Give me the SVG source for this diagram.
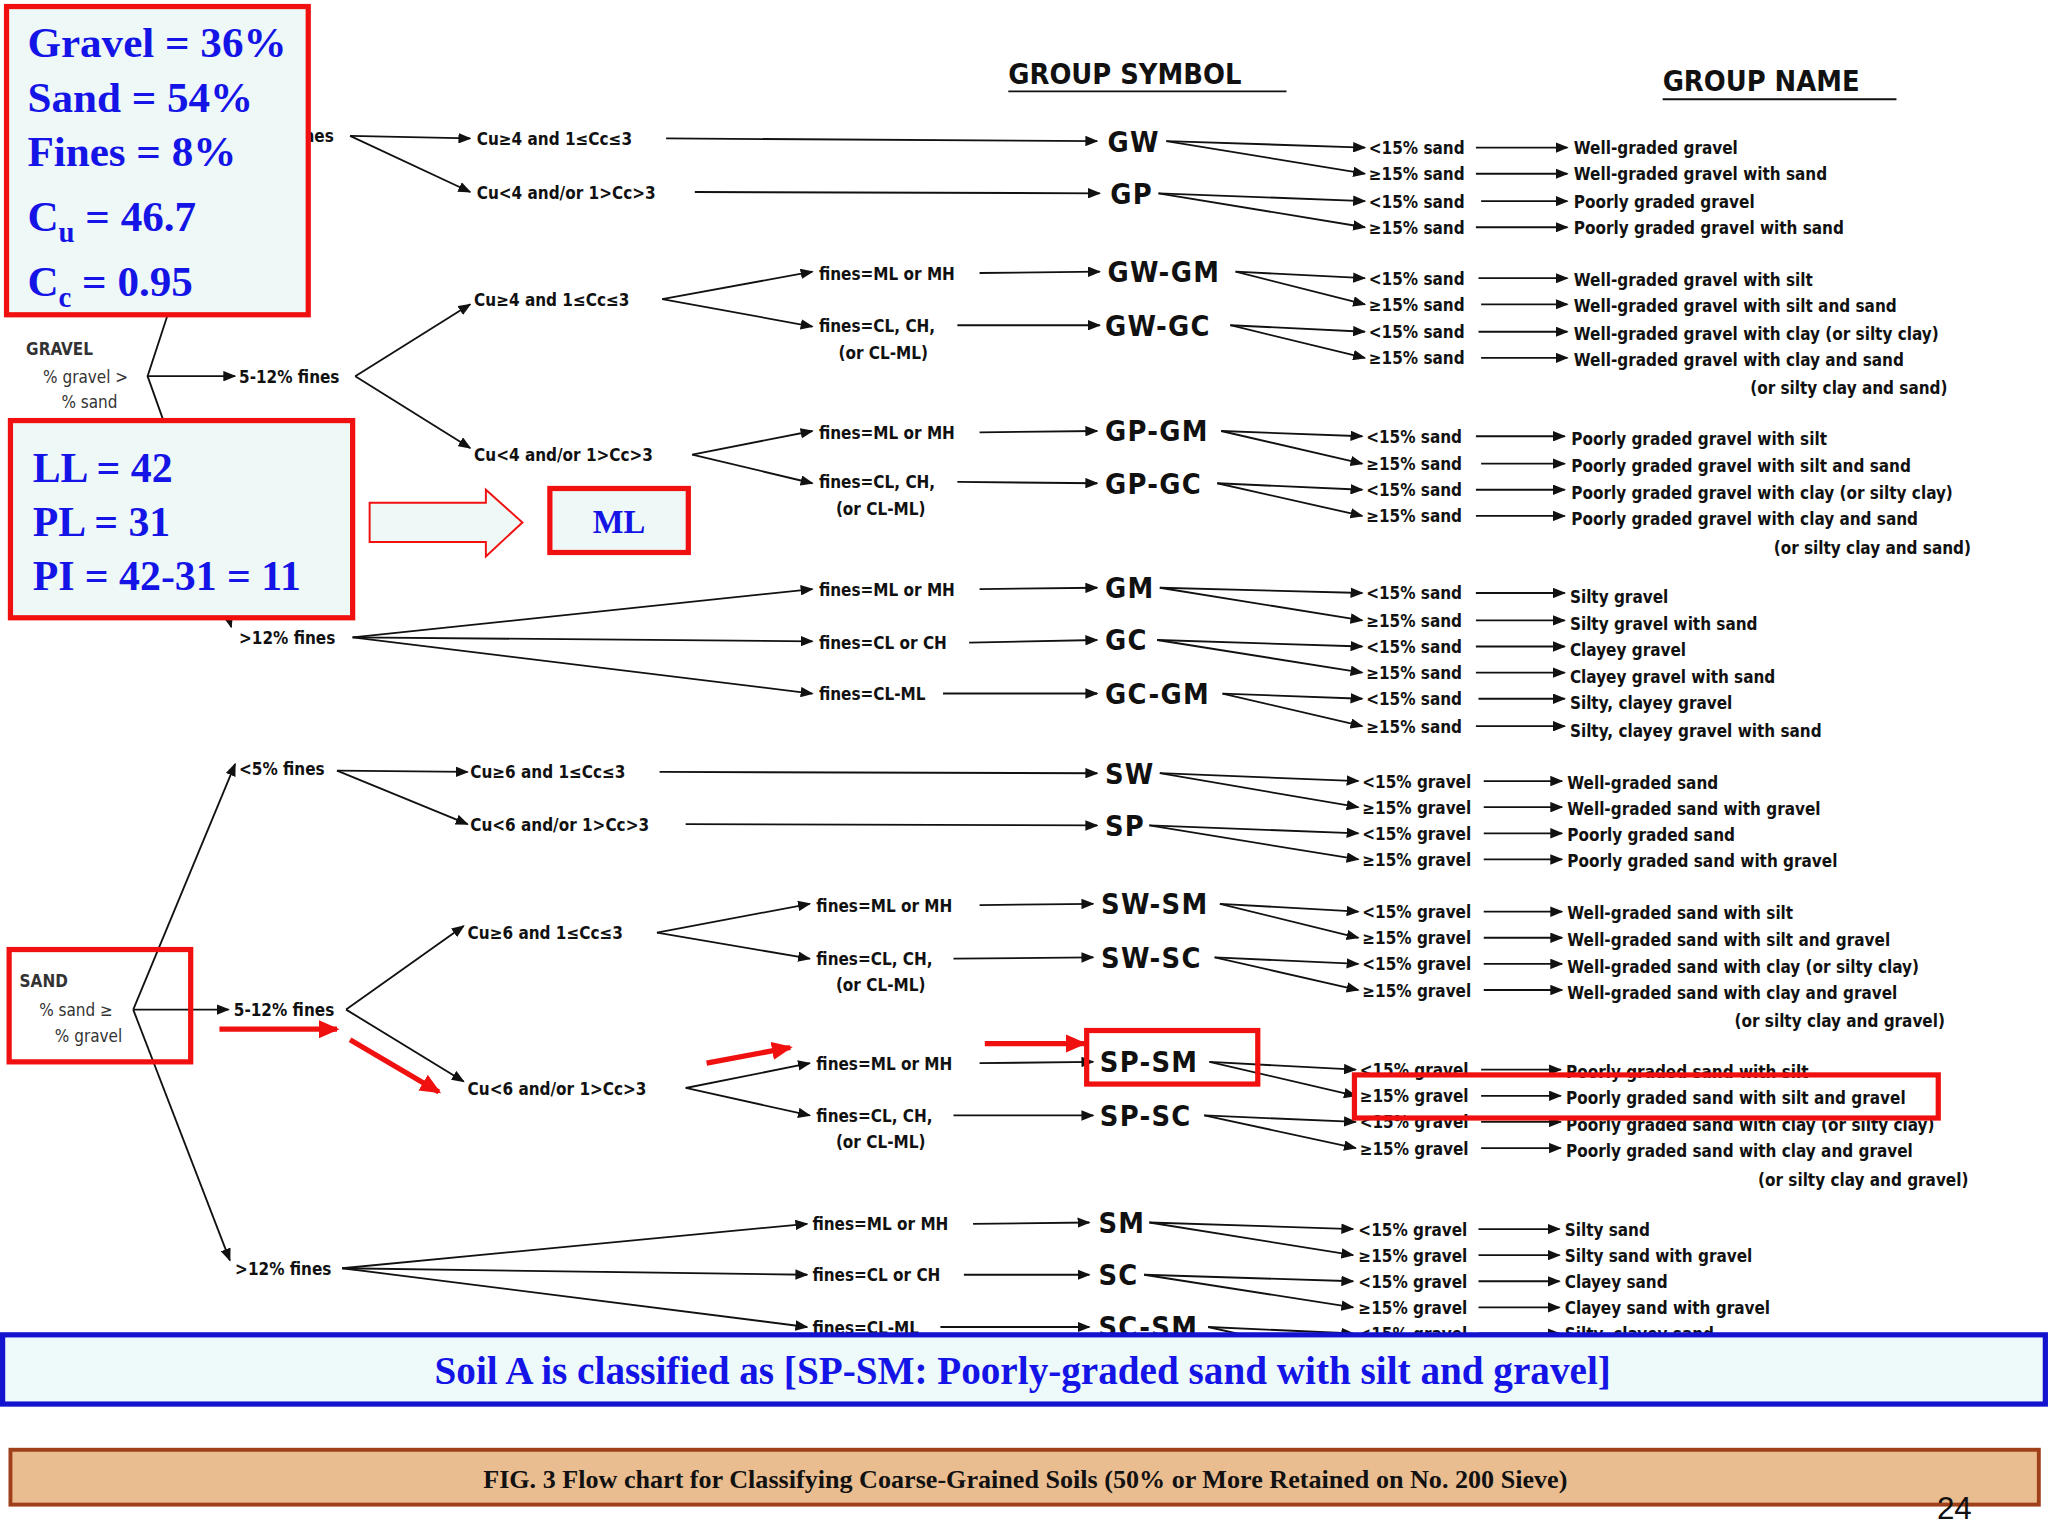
<svg xmlns="http://www.w3.org/2000/svg" width="2048" height="1536" viewBox="0 0 2048 1536">
<defs>
<marker id="ah" markerWidth="10" markerHeight="8" refX="9" refY="4" orient="auto" markerUnits="userSpaceOnUse"><path d="M0,0 L10,4 L0,8 z" fill="#111"/></marker>
<marker id="rh" markerWidth="16" markerHeight="14" refX="14" refY="7" orient="auto" markerUnits="userSpaceOnUse"><path d="M0,0 L16,7 L0,14 z" fill="#f01010"/></marker>
<style>
.t{font-family:"DejaVu Sans Condensed","Liberation Sans Narrow","Liberation Sans",sans-serif;font-weight:bold;font-size:13px;fill:#111}
.g{font-family:"DejaVu Sans Condensed","Liberation Sans",sans-serif;font-size:13px;fill:#333}
.s{font-family:"DejaVu Sans Condensed","Liberation Sans",sans-serif;font-weight:bold;font-size:22px;fill:#111;letter-spacing:1px}
.h{font-family:"DejaVu Sans Condensed","Liberation Sans",sans-serif;font-weight:bold;font-size:22px;fill:#111}
.l{stroke:#111;stroke-width:1.4;fill:none}
.a{stroke:#111;stroke-width:1.4;fill:none;marker-end:url(#ah)}
.rb{fill:none;stroke:#f01010;stroke-width:4}
.bx{fill:#eef8f6;stroke:#f01010;stroke-width:4}
.bt{font-family:"Liberation Serif",serif;font-weight:bold;fill:#1414e6}
.ra{stroke:#f01010;stroke-width:4;fill:none;marker-end:url(#rh)}
</style>
</defs>
<rect width="2048" height="1536" fill="#ffffff"/>
<g transform="scale(1.3061)">
<g id="headers">
<text class="h" x="772" y="64">GROUP SYMBOL</text><line x1="772" y1="70" x2="985" y2="70" class="l" stroke-width="2"/>
<text class="h" x="1273" y="70">GROUP NAME</text><line x1="1273" y1="76" x2="1452" y2="76" class="l" stroke-width="2"/>
</g>
<g id="connectors">
<!-- gravel root -->
<path class="l" d="M130,236 L113,288 L160,420"/>
<path class="a" d="M113,288 L180,288"/>
<path class="a" d="M160,420 L177,480"/>
<!-- sand root -->
<path class="a" d="M102,773 L180,585"/>
<path class="a" d="M102,773 L176,965"/>
<path class="a" d="M102,773 L175,773"/>
<!-- level 2 -->
<path class="a" d="M268,104 L360,106"/><path class="a" d="M268,104 L360,147"/>
<path class="a" d="M272,288 L360,233"/><path class="a" d="M272,288 L360,343"/>
<path class="a" d="M270,488 L622,451"/><path class="a" d="M270,488 L622,491"/><path class="a" d="M270,488 L622,531"/>
<path class="a" d="M258,590 L358,591"/><path class="a" d="M258,590 L358,631"/>
<path class="a" d="M265,773 L355,709"/><path class="a" d="M265,773 L355,828"/>
<path class="a" d="M262,971 L618,937"/><path class="a" d="M262,971 L618,976"/><path class="a" d="M262,971 L618,1016"/>
<path class="a" d="M507,229 L622,208"/><path class="a" d="M507,229 L622,250"/>
<path class="a" d="M530,348 L622,330"/><path class="a" d="M530,348 L622,370"/>
<path class="a" d="M503,714 L620,692"/><path class="a" d="M503,714 L620,734"/>
<path class="a" d="M525,833 L620,814"/><path class="a" d="M525,833 L620,854"/>
<!-- into symbols -->
<path class="a" d="M510,106 L840,108"/><path class="a" d="M532,147 L842,148"/>
<path class="a" d="M750,209 L842,208"/><path class="a" d="M733,249 L842,249"/>
<path class="a" d="M750,331 L840,330"/><path class="a" d="M733,369 L840,370"/>
<path class="a" d="M750,451 L840,450"/><path class="a" d="M742,492 L840,490"/><path class="a" d="M722,531 L840,531"/>
<path class="a" d="M505,591 L840,592"/><path class="a" d="M525,631 L840,632"/>
<path class="a" d="M750,693 L837,692"/><path class="a" d="M730,734 L837,733"/>
<path class="a" d="M750,814 L837,813"/><path class="a" d="M730,854 L837,854"/>
<path class="a" d="M745,937 L834,936"/><path class="a" d="M738,976 L834,976"/><path class="a" d="M720,1016 L834,1016"/>
<!-- symbol to qualifiers -->
<path class="a" d="M893,108 L1045,113"/><path class="a" d="M893,108 L1045,133"/>
<path class="a" d="M887,148 L1045,154"/><path class="a" d="M887,148 L1045,174"/>
<path class="a" d="M946,208 L1045,213"/><path class="a" d="M946,208 L1045,233"/>
<path class="a" d="M942,249 L1045,254"/><path class="a" d="M942,249 L1045,274"/>
<path class="a" d="M935,330 L1043,334"/><path class="a" d="M935,330 L1043,355"/>
<path class="a" d="M932,370 L1043,375"/><path class="a" d="M932,370 L1043,395"/>
<path class="a" d="M888,450 L1043,454"/><path class="a" d="M888,450 L1043,475"/>
<path class="a" d="M886,490 L1043,495"/><path class="a" d="M886,490 L1043,515"/>
<path class="a" d="M936,531 L1043,535"/><path class="a" d="M936,531 L1043,556"/>
<path class="a" d="M888,592 L1040,598"/><path class="a" d="M888,592 L1040,618"/>
<path class="a" d="M880,632 L1040,638"/><path class="a" d="M880,632 L1040,658"/>
<path class="a" d="M934,692 L1040,698"/><path class="a" d="M934,692 L1040,718"/>
<path class="a" d="M930,733 L1040,738"/><path class="a" d="M930,733 L1040,758"/>
<path class="a" d="M926,813 L1038,819"/><path class="a" d="M926,813 L1038,839"/>
<path class="a" d="M922,854 L1038,859"/><path class="a" d="M922,854 L1038,879"/>
<path class="a" d="M880,936 L1036,941"/><path class="a" d="M880,936 L1036,961"/>
<path class="a" d="M876,976 L1036,981"/><path class="a" d="M876,976 L1036,1001"/>
<path class="a" d="M925,1016 L1036,1021"/><path class="a" d="M925,1016 L1036,1041"/>
<!-- qualifiers to names (sand) -->
<path class="a" d="M1130,113 L1200,113"/><path class="a" d="M1130,133 L1200,133"/><path class="a" d="M1134,154 L1200,154"/><path class="a" d="M1130,174 L1200,174"/>
<path class="a" d="M1132,213 L1200,213"/><path class="a" d="M1134,233 L1200,233"/><path class="a" d="M1132,254 L1200,254"/><path class="a" d="M1134,274 L1200,274"/>
<path class="a" d="M1130,334 L1198,334"/><path class="a" d="M1134,355 L1198,355"/><path class="a" d="M1130,375 L1198,375"/><path class="a" d="M1130,395 L1198,395"/>
<path class="a" d="M1130,454 L1198,454"/><path class="a" d="M1130,475 L1198,475"/><path class="a" d="M1130,495 L1198,495"/><path class="a" d="M1130,515 L1198,515"/><path class="a" d="M1132,535 L1198,535"/><path class="a" d="M1130,556 L1198,556"/>
<!-- gravel -->
<path class="a" d="M1136,598 L1196,598"/><path class="a" d="M1136,618 L1196,618"/><path class="a" d="M1136,638 L1196,638"/><path class="a" d="M1136,658 L1196,658"/>
<path class="a" d="M1136,698 L1196,698"/><path class="a" d="M1136,718 L1196,718"/><path class="a" d="M1136,738 L1196,738"/><path class="a" d="M1136,758 L1196,758"/>
<path class="a" d="M1134,819 L1195,819"/><path class="a" d="M1134,839 L1195,839"/><path class="a" d="M1134,859 L1195,859"/><path class="a" d="M1134,879 L1195,879"/>
<path class="a" d="M1132,941 L1194,941"/><path class="a" d="M1132,961 L1194,961"/><path class="a" d="M1132,981 L1194,981"/><path class="a" d="M1132,1001 L1194,1001"/><path class="a" d="M1132,1021 L1194,1021"/>
</g>
<g id="labels">
<text class="t" x="190" y="109">&lt;5% fines</text>
<text class="g" x="20" y="272" font-weight="bold">GRAVEL</text>
<text class="g" x="33" y="293">% gravel &gt;</text>
<text class="g" x="47" y="312">% sand</text>
<text class="t" x="183" y="293">5-12% fines</text>
<text class="t" x="183" y="493">&gt;12% fines</text>
<text class="t" x="365" y="111">Cu≥4 and 1≤Cc≤3</text>
<text class="t" x="365" y="152">Cu&lt;4 and/or 1&gt;Cc&gt;3</text>
<text class="t" x="363" y="234">Cu≥4 and 1≤Cc≤3</text>
<text class="t" x="363" y="353">Cu&lt;4 and/or 1&gt;Cc&gt;3</text>
<text class="t" x="627" y="214">fines=ML or MH</text>
<text class="t" x="627" y="254">fines=CL, CH,</text><text class="t" x="642" y="275">(or CL-ML)</text>
<text class="t" x="627" y="336">fines=ML or MH</text>
<text class="t" x="627" y="374">fines=CL, CH,</text><text class="t" x="640" y="394">(or CL-ML)</text>
<text class="t" x="627" y="456">fines=ML or MH</text>
<text class="t" x="627" y="497">fines=CL or CH</text>
<text class="t" x="627" y="536">fines=CL-ML</text>
<text class="g" x="15" y="756" font-weight="bold">SAND</text>
<text class="g" x="30" y="778">% sand ≥</text>
<text class="g" x="42" y="798">% gravel</text>
<text class="t" x="183" y="593">&lt;5% fines</text>
<text class="t" x="179" y="778">5-12% fines</text>
<text class="t" x="180" y="976">&gt;12% fines</text>
<text class="t" x="360" y="596">Cu≥6 and 1≤Cc≤3</text>
<text class="t" x="360" y="636">Cu&lt;6 and/or 1&gt;Cc&gt;3</text>
<text class="t" x="358" y="719">Cu≥6 and 1≤Cc≤3</text>
<text class="t" x="358" y="838">Cu&lt;6 and/or 1&gt;Cc&gt;3</text>
<text class="t" x="625" y="698">fines=ML or MH</text>
<text class="t" x="625" y="739">fines=CL, CH,</text><text class="t" x="640" y="759">(or CL-ML)</text>
<text class="t" x="625" y="819">fines=ML or MH</text>
<text class="t" x="625" y="859">fines=CL, CH,</text><text class="t" x="640" y="879">(or CL-ML)</text>
<text class="t" x="622" y="942">fines=ML or MH</text>
<text class="t" x="622" y="981">fines=CL or CH</text>
<text class="t" x="622" y="1021">fines=CL-ML</text>
</g>
<g id="symbols">
<text class="s" x="848" y="116">GW</text><text class="s" x="850" y="156">GP</text>
<text class="s" x="848" y="216">GW-GM</text><text class="s" x="846" y="257">GW-GC</text>
<text class="s" x="846" y="338">GP-GM</text><text class="s" x="846" y="378">GP-GC</text>
<text class="s" x="846" y="458">GM</text><text class="s" x="846" y="498">GC</text><text class="s" x="846" y="539">GC-GM</text>
<text class="s" x="846" y="600">SW</text><text class="s" x="846" y="640">SP</text>
<text class="s" x="843" y="700">SW-SM</text><text class="s" x="843" y="741">SW-SC</text>
<text class="s" x="842" y="821">SP-SM</text><text class="s" x="842" y="862">SP-SC</text>
<text class="s" x="841" y="944">SM</text><text class="s" x="841" y="984">SC</text><text class="s" x="841" y="1024">SC-SM</text>
</g>
<g id="names">
<text class="t" x="1048" y="118">&lt;15% sand</text><text class="t" x="1205" y="118">Well-graded gravel</text>
<text class="t" x="1048" y="138">≥15% sand</text><text class="t" x="1205" y="138">Well-graded gravel with sand</text>
<text class="t" x="1048" y="159">&lt;15% sand</text><text class="t" x="1205" y="159">Poorly graded gravel</text>
<text class="t" x="1048" y="179">≥15% sand</text><text class="t" x="1205" y="179">Poorly graded gravel with sand</text>
<text class="t" x="1048" y="218">&lt;15% sand</text><text class="t" x="1205" y="219">Well-graded gravel with silt</text>
<text class="t" x="1048" y="238">≥15% sand</text><text class="t" x="1205" y="239">Well-graded gravel with silt and sand</text>
<text class="t" x="1048" y="259">&lt;15% sand</text><text class="t" x="1205" y="260">Well-graded gravel with clay (or silty clay)</text>
<text class="t" x="1048" y="279">≥15% sand</text><text class="t" x="1205" y="280">Well-graded gravel with clay and sand</text>
<text class="t" x="1340" y="302">(or silty clay and sand)</text>
<text class="t" x="1046" y="339">&lt;15% sand</text><text class="t" x="1203" y="341">Poorly graded gravel with silt</text>
<text class="t" x="1046" y="360">≥15% sand</text><text class="t" x="1203" y="361">Poorly graded gravel with silt and sand</text>
<text class="t" x="1046" y="380">&lt;15% sand</text><text class="t" x="1203" y="382">Poorly graded gravel with clay (or silty clay)</text>
<text class="t" x="1046" y="400">≥15% sand</text><text class="t" x="1203" y="402">Poorly graded gravel with clay and sand</text>
<text class="t" x="1358" y="424">(or silty clay and sand)</text>
<text class="t" x="1046" y="459">&lt;15% sand</text><text class="t" x="1202" y="462">Silty gravel</text>
<text class="t" x="1046" y="480">≥15% sand</text><text class="t" x="1202" y="482">Silty gravel with sand</text>
<text class="t" x="1046" y="500">&lt;15% sand</text><text class="t" x="1202" y="502">Clayey gravel</text>
<text class="t" x="1046" y="520">≥15% sand</text><text class="t" x="1202" y="523">Clayey gravel with sand</text>
<text class="t" x="1046" y="540">&lt;15% sand</text><text class="t" x="1202" y="543">Silty, clayey gravel</text>
<text class="t" x="1046" y="561">≥15% sand</text><text class="t" x="1202" y="564">Silty, clayey gravel with sand</text>
<text class="t" x="1043" y="603">&lt;15% gravel</text><text class="t" x="1200" y="604">Well-graded sand</text>
<text class="t" x="1043" y="623">≥15% gravel</text><text class="t" x="1200" y="624">Well-graded sand with gravel</text>
<text class="t" x="1043" y="643">&lt;15% gravel</text><text class="t" x="1200" y="644">Poorly graded sand</text>
<text class="t" x="1043" y="663">≥15% gravel</text><text class="t" x="1200" y="664">Poorly graded sand with gravel</text>
<text class="t" x="1043" y="703">&lt;15% gravel</text><text class="t" x="1200" y="704">Well-graded sand with silt</text>
<text class="t" x="1043" y="723">≥15% gravel</text><text class="t" x="1200" y="724">Well-graded sand with silt and gravel</text>
<text class="t" x="1043" y="743">&lt;15% gravel</text><text class="t" x="1200" y="745">Well-graded sand with clay (or silty clay)</text>
<text class="t" x="1043" y="763">≥15% gravel</text><text class="t" x="1200" y="765">Well-graded sand with clay and gravel</text>
<text class="t" x="1328" y="786">(or silty clay and gravel)</text>
<text class="t" x="1041" y="824">&lt;15% gravel</text><text class="t" x="1199" y="825">Poorly graded sand with silt</text>
<text class="t" x="1041" y="844">≥15% gravel</text><text class="t" x="1199" y="845">Poorly graded sand with silt and gravel</text>
<text class="t" x="1041" y="864">&lt;15% gravel</text><text class="t" x="1199" y="866">Poorly graded sand with clay (or silty clay)</text>
<text class="t" x="1041" y="884">≥15% gravel</text><text class="t" x="1199" y="886">Poorly graded sand with clay and gravel</text>
<text class="t" x="1346" y="908">(or silty clay and gravel)</text>
<text class="t" x="1040" y="946">&lt;15% gravel</text><text class="t" x="1198" y="946">Silty sand</text>
<text class="t" x="1040" y="966">≥15% gravel</text><text class="t" x="1198" y="966">Silty sand with gravel</text>
<text class="t" x="1040" y="986">&lt;15% gravel</text><text class="t" x="1198" y="986">Clayey sand</text>
<text class="t" x="1040" y="1006">≥15% gravel</text><text class="t" x="1198" y="1006">Clayey sand with gravel</text>
<text class="t" x="1040" y="1026">&lt;15% gravel</text><text class="t" x="1198" y="1026">Silty, clayey sand</text>
</g>
<g id="soil-data">
<rect class="bx" x="5" y="5" width="231" height="236"/>
<text class="bt" font-size="33" x="21" y="44">Gravel = 36%</text>
<text class="bt" font-size="33" x="21" y="86">Sand = 54%</text>
<text class="bt" font-size="33" x="21" y="127">Fines = 8%</text>
<text class="bt" font-size="33" x="21" y="177">C<tspan font-size="22" dy="8">u</tspan><tspan dy="-8"> = 46.7</tspan></text>
<text class="bt" font-size="33" x="21" y="227">C<tspan font-size="22" dy="8">c</tspan><tspan dy="-8"> = 0.95</tspan></text>
</g>
<g id="limits">
<rect class="bx" x="8" y="322" width="262" height="151"/>
<text class="bt" font-size="32" x="25" y="369">LL = 42</text>
<text class="bt" font-size="32" x="25" y="410">PL = 31</text>
<text class="bt" font-size="32" x="25" y="452">PI = 42-31 = 11</text>
</g>
<g id="hollow-arrow"><polygon points="283,385 372,385 372,375 400,400 372,426 372,415 283,415" fill="#eef8f6" stroke="#f01010" stroke-width="1.5"/></g>
<g id="ml"><rect class="bx" x="421" y="374" width="106" height="49"/><text class="bt" font-size="25" x="474" y="408" text-anchor="middle">ML</text></g>
<g id="highlights">
<rect class="rb" x="7" y="727" width="139" height="86"/>
<rect class="rb" x="832" y="789" width="131" height="41"/>
<rect class="rb" x="1037" y="823" width="447" height="33"/>
<path class="ra" d="M168,788 L258,788"/>
<path class="ra" d="M268,796 L336,836"/>
<path class="ra" d="M541,814 L605,802"/>
<path class="ra" d="M754,799 L830,799"/>
</g>
<g id="result">
<rect x="2" y="1022" width="1564" height="53" fill="#eefafa" stroke="#1414d0" stroke-width="4"/>
<text class="bt" font-size="30" x="783" y="1060" text-anchor="middle">Soil A is classified as [SP-SM: Poorly-graded sand with silt and gravel]</text>
</g>
<g id="caption">
<rect x="8" y="1110" width="1553" height="42" fill="#e9bd90" stroke="#a0401a" stroke-width="3"/>
<text font-family="Liberation Serif,serif" font-weight="bold" font-size="20" fill="#111" x="785" y="1139" text-anchor="middle">FIG. 3  Flow chart for Classifying Coarse-Grained Soils (50% or More Retained on No. 200 Sieve)</text>
<text font-family="Liberation Sans,sans-serif" font-size="24" fill="#111" x="1483" y="1163">24</text>
</g>
</g>
</svg>
